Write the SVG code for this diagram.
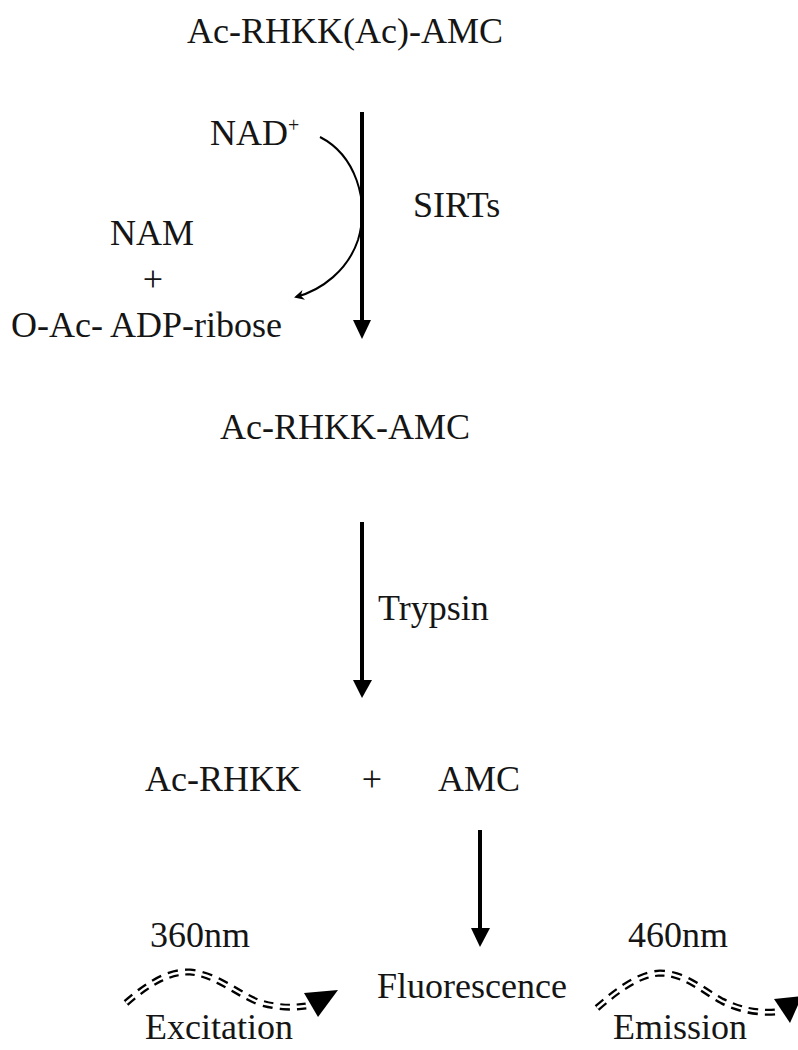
<svg xmlns="http://www.w3.org/2000/svg" width="798" height="1050" viewBox="0 0 798 1050">
<style>
text{font-family:"Liberation Serif","Times New Roman",serif;fill:#151515;font-size:36px}
.arr{stroke:#000;stroke-width:4;fill:none}
.head{fill:#000}
.wave{fill:none;stroke:#000;stroke-width:7;stroke-dasharray:10 7}
.wavein{fill:none;stroke:#fff;stroke-width:2.4}
</style>
<defs>
<marker id="sm" markerWidth="10" markerHeight="10" refX="8" refY="5" orient="auto" markerUnits="userSpaceOnUse">
<path d="M0,0 L10,5 L0,10 L3,5 Z" fill="#000"/>
</marker>
</defs>
<rect width="798" height="1050" fill="#fff"/>
<g id="n-substrate"><text x="187" y="43">Ac-RHKK(Ac)-AMC</text></g>
<g id="n-nad"><text x="210" y="145">NAD<tspan font-size="20" dy="-13">+</tspan></text></g>
<g id="n-sirts"><text x="413" y="217">SIRTs</text></g>
<g id="n-products"><text x="152" y="245" text-anchor="middle">NAM</text><text x="153" y="291" text-anchor="middle">+</text><text x="11" y="337">O-Ac- ADP-ribose</text></g>
<g id="n-deacetyl"><text x="220" y="439">Ac-RHKK-AMC</text></g>
<g id="n-trypsin"><text x="378" y="620">Trypsin</text></g>
<g id="n-cleaved"><text x="145" y="791">Ac-RHKK</text><text x="372" y="791" text-anchor="middle">+</text><text x="438" y="791">AMC</text></g>
<g id="n-fluor"><text x="377" y="998">Fluorescence</text></g>
<g id="n-ex"><text x="150" y="947">360nm</text><text x="145" y="1039">Excitation</text></g>
<g id="n-em"><text x="628" y="947">460nm</text><text x="613" y="1039">Emission</text></g>
<g id="connectors">
<line class="arr" x1="362" y1="112" x2="362" y2="322"/>
<polygon class="head" points="353,320 371,320 362,339"/>
<path d="M320,137 C355,155 370,200 358,240 C348,270 322,290 296,297" fill="none" stroke="#000" stroke-width="2" marker-end="url(#sm)"/>
<line class="arr" x1="362" y1="522" x2="362" y2="682"/>
<polygon class="head" points="353,680 372,680 362,698"/>
<line class="arr" x1="480" y1="830" x2="480" y2="930"/>
<polygon class="head" points="471,928 490,928 480,947"/>
<path class="wave" d="M126,1003 C150,982 170,971 190,972 C215,974 238,994 258,1002 C278,1008 292,1008 306,1006"/>
<path class="wavein" d="M126,1003 C150,982 170,971 190,972 C215,974 238,994 258,1002 C278,1008 292,1008 306,1006"/>
<polygon class="head" points="304,993 338,990 318,1017"/>
<path class="wave" d="M597,1008 C620,988 640,974 660,973 C685,973 705,992 722,1001 C742,1011 758,1013 775,1012"/>
<path class="wavein" d="M597,1008 C620,988 640,974 660,973 C685,973 705,992 722,1001 C742,1011 758,1013 775,1012"/>
<polygon class="head" points="774,999 802,996 790,1023"/>
</g>
</svg>
